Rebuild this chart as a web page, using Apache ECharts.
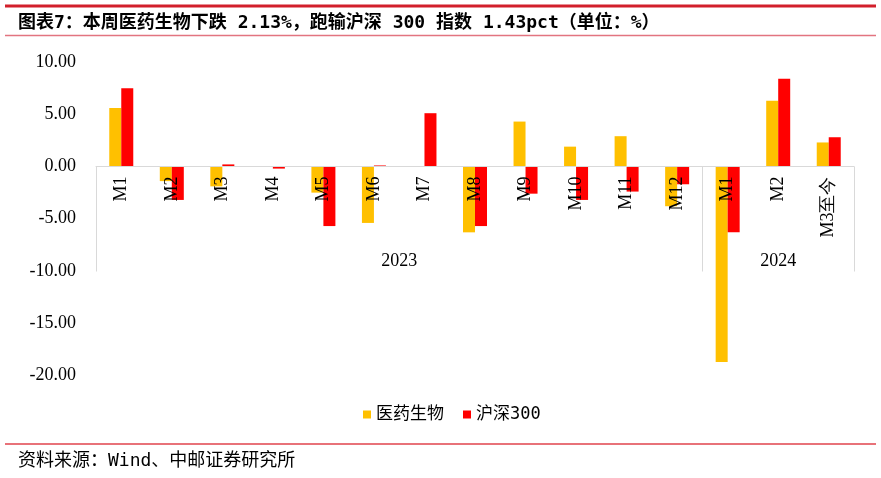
<!DOCTYPE html>
<html>
<head>
<meta charset="utf-8">
<title>图表7</title>
<script src="https://cdn.jsdelivr.net/npm/echarts@6/dist/echarts.min.js"></script>
<style>
  html, body { margin: 0; padding: 0; background: #fff; }
  #chart { width: 881px; height: 478px; }
</style>
</head>
<body>
<div id="chart"></div>
<script>
// categories (month labels), grouped by year
const months = ["M1", "M2", "M3", "M4", "M5", "M6", "M7", "M8", "M9", "M10", "M11", "M12", "M1", "M2", "M3至今"];
const years = ["2023", "2024"];
const yearSizes = [12, 3];

// series values (%)
const pharma = [5.6, -1.4, -1.9, 0, -2.5, -5.4, 0, -6.3, 4.3, 1.9, 2.9, -3.8, -18.7, 6.3, 2.3];
const hs300 = [7.5, -3.2, 0.2, -0.2, -5.7, 0.1, 5.1, -5.7, -2.6, -3.2, -2.4, -1.7, -6.3, 8.4, 2.8];

// y axis ticks
const yTicks = [-20, -15, -10, -5, 0, 5, 10];

// group boundaries and centres for the year level
const bounds = [0];
yearSizes.forEach(n => bounds.push(bounds[bounds.length - 1] + n));
const mids = years.map((y, i) => (bounds[i] + bounds[i + 1]) / 2);

const serif = "Liberation Serif, Times New Roman, serif";
const cjk = "'DejaVu Sans Mono', 'Noto Sans CJK SC', sans-serif";

// grid box; the category axis sits on y = 0, so shift it up from the bottom
const gridTop = 62;
const gridBottom = 102.5;
const plotHeight = 478 - gridTop - gridBottom;
const yMin = yTicks[0];
const yMax = yTicks[yTicks.length - 1];
const zeroOffset = -plotHeight * (0 - yMin) / (yMax - yMin);

const chart = echarts.init(document.getElementById("chart"), null, { renderer: "canvas" });

chart.setOption({
  animation: false,
  title: {
    text: "图表7：本周医药生物下跌 2.13%，跑输沪深 300 指数 1.43pct（单位：%）",
    left: 18,
    top: 14,
    padding: 0,
    textStyle: {
      fontFamily: cjk,
      fontSize: 18,
      fontWeight: "bold",
      color: "#000"
    }
  },
  graphic: [
    { type: "line", shape: { x1: 5, y1: 6, x2: 876, y2: 6 }, style: { stroke: "#d21f2b", lineWidth: 3 } },
    { type: "line", shape: { x1: 5, y1: 35.5, x2: 876, y2: 35.5 }, style: { stroke: "#e27480", lineWidth: 1.5 } },
    { type: "line", shape: { x1: 5, y1: 444, x2: 876, y2: 444 }, style: { stroke: "#e0434d", lineWidth: 1.5 } },
    {
      type: "text",
      x: 18,
      y: 461,
      style: {
        text: "资料来源：Wind、中邮证券研究所",
        font: "18px " + cjk,
        fill: "#000",
        verticalAlign: "middle"
      }
    }
  ],
  legend: {
    left: 363,
    top: 406,
    padding: 0,
    itemGap: 19,
    itemWidth: 8,
    itemHeight: 8,
    icon: "rect",
    textStyle: {
      fontFamily: cjk,
      fontSize: 17,
      color: "#000"
    },
    data: ["医药生物", "沪深300"]
  },
  grid: {
    left: 96,
    right: 27,
    top: gridTop,
    bottom: gridBottom,
    outerBoundsMode: "none"
  },
  xAxis: [
    {
      type: "category",
      data: months,
      position: "bottom",
      offset: zeroOffset,
      z: 5,
      axisLine: {
        onZero: false,
        lineStyle: { color: "#d9d9d9", width: 1 }
      },
      axisTick: { show: false },
      axisLabel: {
        interval: 0,
        rotate: 90,
        margin: 10,
        fontFamily: serif,
        fontSize: 18,
        color: "#000"
      },
      splitLine: { show: false }
    },
    {
      type: "value",
      min: bounds[0],
      max: bounds[bounds.length - 1],
      position: "bottom",
      offset: zeroOffset,
      axisLine: { show: false, onZero: false },
      axisTick: {
        show: true,
        customValues: bounds,
        length: 105,
        lineStyle: { color: "#d9d9d9", width: 1 }
      },
      axisLabel: {
        customValues: mids,
        margin: 86,
        fontFamily: serif,
        fontSize: 18,
        color: "#000",
        formatter: v => years[mids.indexOf(v)] || ""
      },
      splitLine: { show: false }
    }
  ],
  yAxis: {
    type: "value",
    min: yMin,
    max: yMax,
    interval: 5,
    axisLine: { show: false },
    axisTick: { show: false },
    splitLine: { show: false },
    axisLabel: {
      margin: 20,
      fontFamily: serif,
      fontSize: 18,
      color: "#000",
      formatter: v => v.toFixed(2)
    }
  },
  series: [
    {
      name: "医药生物",
      type: "bar",
      barWidth: 12,
      barGap: "0%",
      itemStyle: { color: "#ffc000" },
      data: pharma
    },
    {
      name: "沪深300",
      type: "bar",
      barWidth: 12,
      barGap: "0%",
      itemStyle: { color: "#ff0000" },
      data: hs300
    }
  ]
});
</script>
</body>
</html>
